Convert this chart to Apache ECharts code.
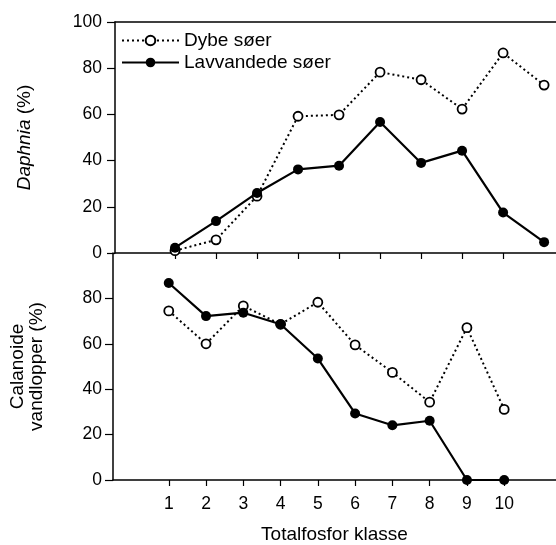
<!DOCTYPE html>
<html>
<head>
<meta charset="utf-8">
<script src="https://cdn.jsdelivr.net/npm/echarts@6/dist/echarts.min.js"></script>
<style>
  html, body { margin: 0; padding: 0; background: #fff; }
  #chart { width: 556px; height: 545px; }
</style>
</head>
<body>
<div id="chart"></div>
<script>
// Total phosphorus classes
const classes = [1, 2, 3, 4, 5, 6, 7, 8, 9, 10];
const topTicks = [1, 2, 3, 4, 5, 6, 7, 8, 9];
const yTicksLower = [0, 20, 40, 60, 80];

// Daphnia share of cladoceran biomass (%)
const daphniaDeep    = [1.0, 5.7, 24.6, 59.2, 59.8, 78.3, 75.0, 62.3, 86.6, 72.7];
const daphniaShallow = [2.3, 13.8, 26.0, 36.2, 37.8, 56.7, 39.0, 44.3, 17.5, 4.7];

// Calanoid copepod share (%)
const calanoidDeep    = [74.5, 60.0, 76.7, 68.6, 78.3, 59.5, 47.4, 34.3, 67.1, 31.1];
const calanoidShallow = [86.8, 72.2, 73.7, 68.6, 53.5, 29.3, 24.1, 26.1, 0, 0];

const FONT = 'Liberation Sans, Arial, Helvetica, sans-serif';
const INK = '#000';

const pairs = vals => classes.map((c, i) => [c, vals[i]]);

const deepStyle = {
  type: 'line',
  symbol: 'circle',
  symbolSize: 9,
  itemStyle: { color: '#fff', borderColor: INK, borderWidth: 1.8 },
  lineStyle: { color: INK, width: 2, type: [2, 3] },
  emphasis: { disabled: true },
  z: 2
};
const shallowStyle = {
  type: 'line',
  symbol: 'circle',
  symbolSize: 10,
  itemStyle: { color: INK, borderColor: INK, borderWidth: 0 },
  lineStyle: { color: INK, width: 2.2, type: 'solid' },
  emphasis: { disabled: true },
  z: 3
};

const axisLine = { show: true, onZero: false, lineStyle: { color: INK, width: 1.5 } };
const tickLine = { color: INK, width: 1.2 };

const chart = echarts.init(document.getElementById('chart'), null, { renderer: 'canvas' });

chart.setOption({
  animation: false,
  backgroundColor: '#fff',
  textStyle: { fontFamily: FONT, color: INK },
  legend: {
    data: ['Dybe søer', 'Lavvandede søer'],
    orient: 'vertical',
    left: 121,
    top: 31,
    padding: 0,
    itemWidth: 57,
    itemHeight: 12,
    itemGap: 3,
    textStyle: { fontFamily: FONT, fontSize: 19, color: INK },
    selectedMode: false
  },
  grid: [
    { left: 115, right: 0, top: 22, height: 231 },
    { left: 111, right: 0, top: 253, height: 229 }
  ],
  xAxis: [
    {
      gridIndex: 0, type: 'value', position: 'bottom',
      min: -0.463, max: 10.29,
      axisLine: axisLine,
      axisTick: { show: true, customValues: topTicks, length: 6, lineStyle: tickLine },
      axisLabel: { show: false },
      splitLine: { show: false }
    },
    {
      gridIndex: 0, type: 'value', position: 'top',
      min: -0.463, max: 10.29,
      axisLine: axisLine,
      axisTick: { show: false },
      axisLabel: { show: false },
      splitLine: { show: false }
    },
    {
      gridIndex: 1, type: 'value', position: 'bottom',
      min: -0.496, max: 11.39,
      axisLine: axisLine,
      axisTick: { show: true, customValues: classes, length: 6, lineStyle: tickLine },
      axisLabel: { show: true, customValues: classes, margin: 15, fontSize: 17.5, color: INK, fontFamily: FONT },
      splitLine: { show: false },
      name: 'Totalfosfor klasse',
      nameLocation: 'middle',
      nameGap: 45,
      nameTextStyle: { fontSize: 19, color: INK, fontFamily: FONT }
    }
  ],
  yAxis: [
    {
      gridIndex: 0, type: 'value', min: 0, max: 100, interval: 20,
      axisLine: axisLine,
      axisTick: { show: true, length: 8, lineStyle: tickLine },
      axisLabel: { margin: 13, fontSize: 17.5, color: INK, fontFamily: FONT },
      splitLine: { show: false },
      name: '{i|Daphnia} (%)',
      nameLocation: 'middle',
      nameRotate: 90,
      nameGap: 81,
      nameTextStyle: {
        fontSize: 19, color: INK, fontFamily: FONT,
        rich: { i: { fontStyle: 'italic', fontSize: 19, color: INK, fontFamily: FONT } }
      }
    },
    {
      gridIndex: 1, type: 'value', min: 0, max: 100, interval: 20,
      axisLine: axisLine,
      axisTick: { show: true, customValues: yTicksLower, length: 8, lineStyle: tickLine },
      axisLabel: { customValues: yTicksLower, margin: 11, fontSize: 17.5, color: INK, fontFamily: FONT },
      splitLine: { show: false },
      name: 'Calanoide\nvandlopper (%)',
      nameLocation: 'middle',
      nameRotate: 90,
      nameGap: 67,
      nameTextStyle: { fontSize: 19, lineHeight: 19, color: INK, fontFamily: FONT, align: 'center' }
    }
  ],
  series: [
    Object.assign({ name: 'Dybe søer', xAxisIndex: 0, yAxisIndex: 0, data: pairs(daphniaDeep) }, deepStyle),
    Object.assign({ name: 'Lavvandede søer', xAxisIndex: 0, yAxisIndex: 0, data: pairs(daphniaShallow) }, shallowStyle),
    Object.assign({ name: 'Dybe søer', xAxisIndex: 2, yAxisIndex: 1, data: pairs(calanoidDeep) }, deepStyle),
    Object.assign({ name: 'Lavvandede søer', xAxisIndex: 2, yAxisIndex: 1, data: pairs(calanoidShallow) }, shallowStyle)
  ]
});
</script>
</body>
</html>
